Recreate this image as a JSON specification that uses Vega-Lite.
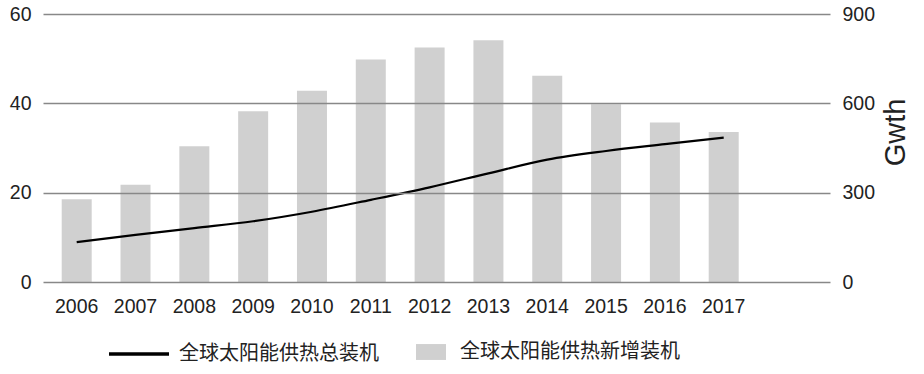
{
  "$schema": "https://vega.github.io/schema/vega-lite/v6.json",
  "width": 787,
  "height": 268,
  "autosize": {"type": "none"},
  "padding": {"left": 43, "top": 14, "right": 94, "bottom": 92},
  "background": "white",
  "config": {"view": {"stroke": null}, "font": "Liberation Sans"},
  "data": {
    "values": [
      {"year": "2006", "added": 18.5, "total": 134},
      {"year": "2007", "added": 21.8, "total": 158},
      {"year": "2008", "added": 30.4, "total": 181},
      {"year": "2009", "added": 38.2, "total": 204},
      {"year": "2010", "added": 42.8, "total": 236},
      {"year": "2011", "added": 49.8, "total": 276},
      {"year": "2012", "added": 52.5, "total": 318},
      {"year": "2013", "added": 54.1, "total": 365},
      {"year": "2014", "added": 46.2, "total": 411},
      {"year": "2015", "added": 39.8, "total": 440},
      {"year": "2016", "added": 35.7, "total": 463},
      {"year": "2017", "added": 33.6, "total": 485}
    ]
  },
  "encoding": {
    "x": {
      "field": "year",
      "type": "ordinal",
      "scale": {"paddingInner": 0.49, "paddingOuter": 0.935, "align": 0.17},
      "axis": {
        "title": null,
        "labelAngle": 0,
        "labelFontSize": 19.5,
        "labelColor": "#222",
        "ticks": false,
        "domain": false,
        "grid": false,
        "labelPadding": 15
      }
    }
  },
  "layer": [
    {
      "mark": {"type": "bar", "color": "#d0d0d0"},
      "encoding": {
        "y": {
          "field": "added",
          "type": "quantitative",
          "scale": {"domain": [0, 60]},
          "axis": {
            "values": [0, 20, 40, 60],
            "title": null,
            "grid": true,
            "gridColor": "#888888",
            "gridWidth": 1.5,
            "domain": false,
            "ticks": false,
            "labelFontSize": 19.5,
            "labelPadding": 12,
            "labelColor": "#222",
            "zindex": 1
          }
        },
        "fill": {
          "datum": "全球太阳能供热新增装机",
          "scale": {"range": ["#d0d0d0"]},
          "legend": {
            "orient": "none",
            "legendX": 373,
            "legendY": 323,
            "title": null,
            "symbolType": "M-1,-0.53H1V0.53H-1Z",
            "symbolSize": 900,
            "symbolStrokeWidth": 0,
            "labelFontSize": 20,
            "labelFont": "Noto Sans CJK SC",
            "labelColor": "#222",
            "labelOffset": 14,
            "labelLimit": 0
          }
        }
      }
    },
    {
      "mark": {"type": "line", "color": "black", "strokeWidth": 2.2, "interpolate": "monotone"},
      "encoding": {
        "y": {
          "field": "total",
          "type": "quantitative",
          "scale": {"domain": [0, 900]},
          "axis": {
            "orient": "right",
            "values": [0, 300, 600, 900],
            "title": "Gwth",
            "titleAngle": 270,
            "titleFontSize": 29,
            "titleFontWeight": "normal",
            "titleColor": "#222",
            "titlePadding": 36,
            "titleY": 118,
            "grid": false,
            "domain": false,
            "ticks": false,
            "labelFontSize": 19.5,
            "labelPadding": 12,
            "labelColor": "#222"
          }
        },
        "stroke": {
          "datum": "全球太阳能供热总装机",
          "scale": {"range": ["black"]},
          "legend": {
            "orient": "none",
            "legendX": 64,
            "legendY": 308,
            "title": null,
            "symbolType": "stroke",
            "symbolSize": 3600,
            "symbolStrokeWidth": 3.5,
            "labelFontSize": 20,
            "labelFont": "Noto Sans CJK SC",
            "labelColor": "#222",
            "labelOffset": 8,
            "labelLimit": 0
          }
        }
      }
    }
  ],
  "resolve": {"scale": {"y": "independent"}}
}
